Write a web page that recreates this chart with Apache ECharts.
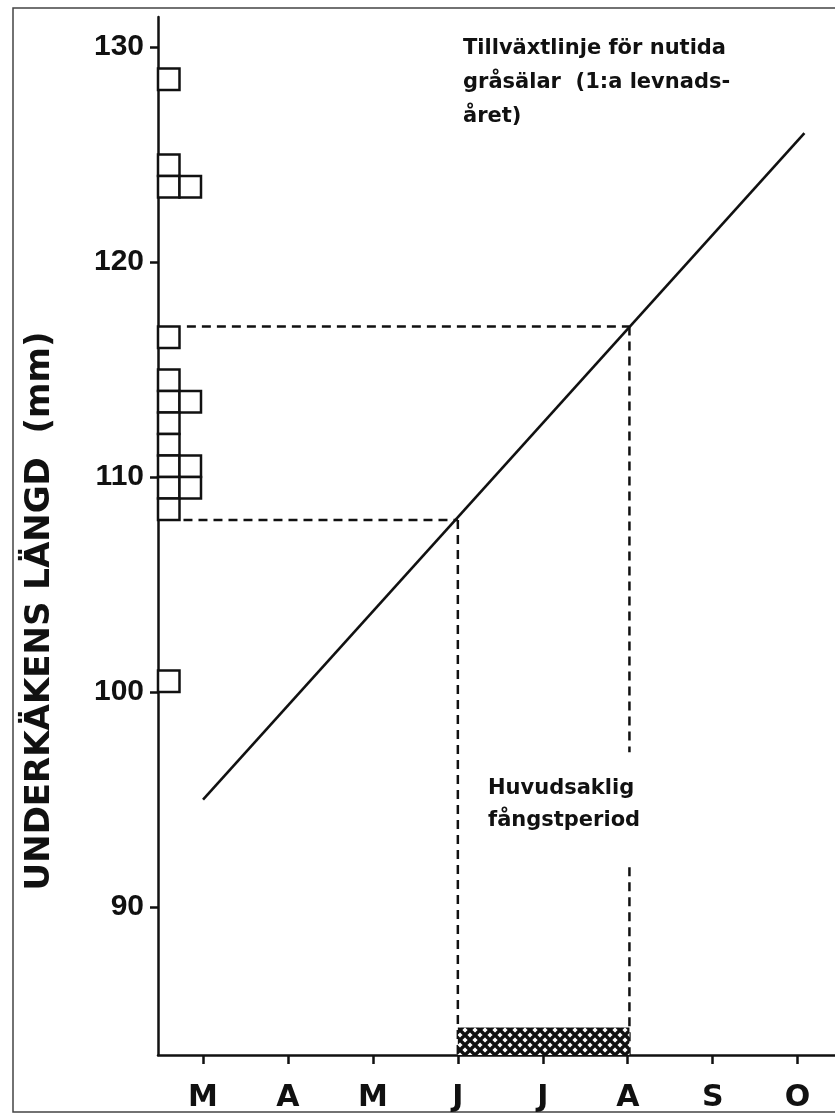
<!DOCTYPE html>
<html><head><meta charset="utf-8">
<script src="https://cdn.jsdelivr.net/npm/echarts@6/dist/echarts.min.js"></script>
<style>html,body{margin:0;padding:0;background:#fff}#c{width:835px;height:1115px}</style>
</head><body><div id="c"></div>
<script>
// ---- data ----
const monthLabels = ['M','A','M','J','J','A','S','O'];
const monthTicks = [0,1,2,3,4,5,6,7];
const yTicks = [90,100,110,120,130];
const histBins = [128,124,123,116,114,113,112,111,110,109,108,100];
const histCounts = [1,1,2,1,1,2,1,1,2,2,1,1];
const growthLine = [[0,95],[7.08,126]];
const dashH108 = [[-0.23,108],[3,108]];
const dashVJune = [[3,108],[3,83.12]];
const dashH117 = [[-0.19,117],[5.02,117]];
const dashVAugUpper = [[5.02,117],[5.02,97.2]];
const dashVAugLower = [[5.02,91.85],[5.02,83.12]];
const catchPeriod = [3, 5.02];
const catchTop = 84.4;
const xMin = -0.53, xMax = 7.44, yMin = 83.12, yMax = 131.4;
const yName = 'UNDERKÄKENS LÄNGD  (mm)';
const growthText = 'Tillväxtlinje för nutida\ngråsälar  (1:a levnads-\nåret)';
const catchText = 'Huvudsaklig\nfångstperiod';

// ---- build ----
const boxes = histBins.flatMap((b,i)=>Array.from({length:histCounts[i]},(_,c)=>[c,b]));
const T = 10;
const pc = document.createElement('canvas'); pc.width=T; pc.height=T;
const g = pc.getContext('2d'); g.fillStyle='#fff'; g.fillRect(0,0,T,T);
g.strokeStyle='#111'; g.lineWidth=3.4; g.beginPath();
g.moveTo(-3,-3); g.lineTo(T+3,T+3); g.moveTo(T+3,-3); g.lineTo(-3,T+3); g.stroke();

const ink = '#111';
const dashStyle = {color: ink, width: 2.5, type: [9,6]};
function dashSeries(d){ return {type:'line', data:d, symbol:'none', silent:true, lineStyle:dashStyle, z:2}; }

const chart = echarts.init(document.getElementById('c'));
chart.setOption({
  animation:false,
  backgroundColor:'#fff',
  grid:{left:158, right:0, top:17, bottom:60},
  xAxis:{type:'value', min:xMin, max:xMax,
    axisLine:{onZero:false, lineStyle:{color:ink, width:2.5}},
    axisTick:{customValues:monthTicks, length:9, lineStyle:{color:ink, width:2.5}},
    axisLabel:{customValues:monthTicks, formatter:v=>monthLabels[Math.round(v)], fontFamily:'DejaVu Sans', fontWeight:'bold', fontSize:30, color:ink, margin:28},
    splitLine:{show:false}},
  yAxis:{type:'value', min:yMin, max:yMax,
    axisLine:{onZero:false, lineStyle:{color:ink, width:2.5}},
    axisTick:{customValues:yTicks, length:8, lineStyle:{color:ink, width:2.5}},
    axisLabel:{customValues:yTicks, fontFamily:'Liberation Sans', fontWeight:'bold', fontSize:30, color:ink, margin:14},
    splitLine:{show:false}},
  series:[
    {type:'custom', data:[[catchPeriod[0], catchPeriod[1], catchTop]], z:3,
     renderItem:(p,api)=>{
       const a = api.coord([api.value(0), api.value(2)]);
       const b = api.coord([api.value(1), yMin]);
       return {type:'rect', shape:{x:a[0], y:a[1], width:b[0]-a[0], height:b[1]-a[1]}, style:{fill:{image:pc, repeat:'repeat'}}};
     }},
    dashSeries(dashH108), dashSeries(dashVJune), dashSeries(dashH117), dashSeries(dashVAugUpper), dashSeries(dashVAugLower),
    {type:'line', data:growthLine, symbol:'none', silent:true, lineStyle:{color:ink, width:2.6}, z:4},
    {type:'custom', data:boxes, z:5,
     renderItem:(p,api)=>{
       const col = api.value(0), bin = api.value(1);
       const t = api.coord([xMin, bin+1]);
       const bt = api.coord([xMin, bin]);
       const s = bt[1]-t[1];
       return {type:'rect', shape:{x:t[0]+col*s, y:t[1], width:s, height:s}, style:{fill:'#fff', stroke:ink, lineWidth:2.5}};
     }}
  ],
  graphic:[
    {type:'rect', shape:{x:13, y:8, width:850, height:1104}, style:{fill:'transparent', stroke:'#444', lineWidth:1.5}, z:-10, silent:true},
    {type:'text', x:40, y:611, rotation:Math.PI/2, style:{text:yName, align:'center', verticalAlign:'middle', fontFamily:'DejaVu Sans', fontWeight:'bold', fontSize:34, fill:ink}},
    {type:'text', x:463, y:32, style:{text:growthText, fontFamily:'DejaVu Sans', fontWeight:'bold', fontSize:21, lineHeight:34, fill:ink, align:'left', verticalAlign:'top'}},
    {type:'text', x:488, y:773, style:{text:catchText, fontFamily:'DejaVu Sans', fontWeight:'bold', fontSize:21, lineHeight:32, fill:ink, align:'left', verticalAlign:'top'}}
  ]
});
</script></body></html>
